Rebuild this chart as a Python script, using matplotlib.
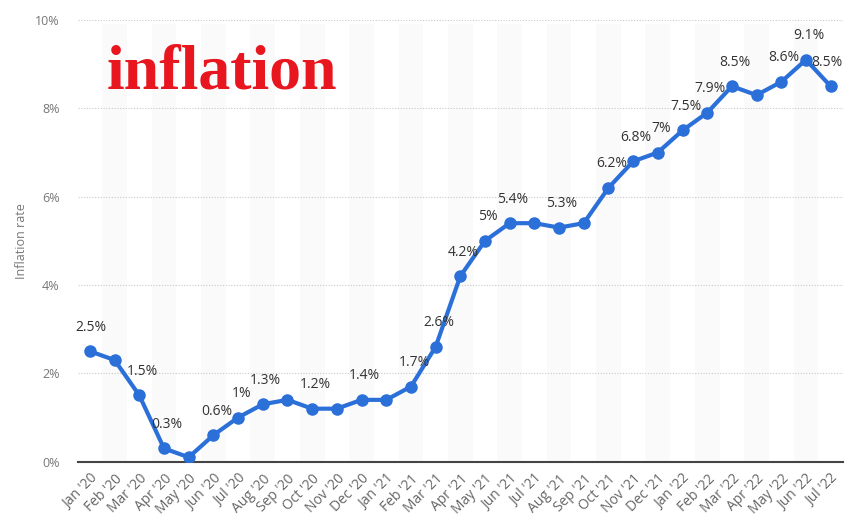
import matplotlib
matplotlib.use("Agg")
import matplotlib.pyplot as plt

months = ["Jan '20", "Feb '20", "Mar '20", "Apr '20", "May '20", "Jun '20", "Jul '20", "Aug '20",
          "Sep '20", "Oct '20", "Nov '20", "Dec '20", "Jan '21", "Feb '21", "Mar '21", "Apr '21",
          "May '21", "Jun '21", "Jul '21", "Aug '21", "Sep '21", "Oct '21", "Nov '21", "Dec '21",
          "Jan '22", "Feb '22", "Mar '22", "Apr '22", "May '22", "Jun '22", "Jul '22"]
rates = [2.5, 2.3, 1.5, 0.3, 0.1, 0.6, 1.0, 1.3, 1.4, 1.2, 1.2, 1.4, 1.4, 1.7, 2.6, 4.2,
         5.0, 5.4, 5.4, 5.3, 5.4, 6.2, 6.8, 7.0, 7.5, 7.9, 8.5, 8.3, 8.6, 9.1, 8.5]
labeled = [0, 2, 3, 5, 6, 7, 9, 11, 13, 14, 15, 16, 17, 19, 21, 22, 23, 24, 25, 26, 28, 29, 30]
yticks = [0, 2, 4, 6, 8, 10]
ytick_labels = ["0%", "2%", "4%", "6%", "8%", "10%"]

plt.rcParams['font.family'] = ['Open Sans', 'DejaVu Sans']

fig = plt.figure(figsize=(8.51, 5.25), dpi=100)
ax = fig.add_axes([0.0912, 0.1206, 0.8994, 0.8413])

x = list(range(len(months)))
for i in x:
    if i % 2 == 1:
        ax.axvspan(i - 0.5, i + 0.5, ymin=0, ymax=0.99, color='#fafafa', zorder=0, lw=0)

for t in yticks[1:]:
    ax.axhline(t, color='#c8c8c8', lw=0.8, ls=(0, (1, 1.5)), zorder=1)

ax.plot(x, rates, color='#2b6fd9', lw=3.0, marker='o', ms=8, zorder=4, solid_capstyle='round')

for i in labeled:
    dx = 3
    if i == 0:
        dx = 1
    if i == len(months) - 1:
        dx = -4
    ax.annotate(f"{rates[i]:g}%", (i, rates[i]), xytext=(dx, 24), textcoords='offset pixels',
                ha='center', va='center', fontsize=10, color='#333333', zorder=5)

ax.set_xlim(-0.5, len(months) - 0.5)
ax.set_ylim(0, 10)
ax.set_yticks(yticks)
ax.set_yticklabels(ytick_labels)
ax.set_xticks(x)
ax.set_xticklabels(months, rotation=45, ha='right', rotation_mode='anchor')
ax.tick_params(axis='y', length=0, pad=13, labelsize=9, labelcolor='#777777')
ax.tick_params(axis='x', length=0, pad=7, labelsize=10, labelcolor='#666666')
for s in ['top', 'right', 'left']:
    ax.spines[s].set_visible(False)
ax.spines['bottom'].set_color('#444444')
ax.spines['bottom'].set_linewidth(1.5)
ax.spines['bottom'].set_zorder(3)
ax.set_ylabel("Inflation rate", fontsize=9, color='#777777', labelpad=5)

fig.text(0.125, 0.832, "inflation", family='Liberation Serif', fontweight='bold',
         fontsize=46, color='#e8161f', ha='left', va='baseline')

fig.savefig("out.png", dpi=100)
